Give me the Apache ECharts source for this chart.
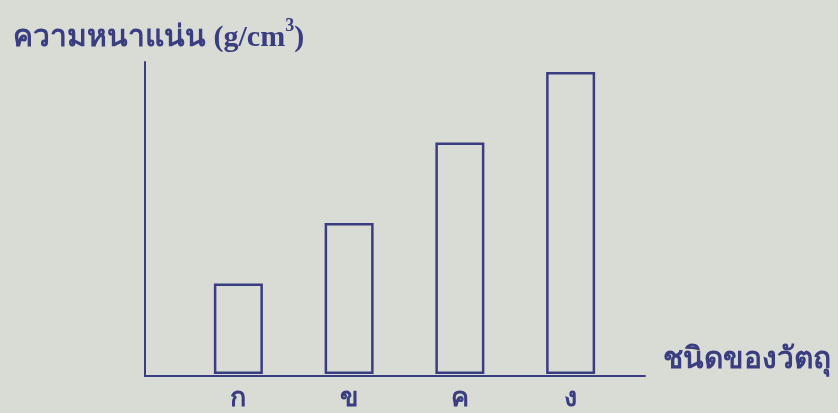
<!DOCTYPE html>
<html><head><meta charset="utf-8">
<script src="https://cdn.jsdelivr.net/npm/echarts@6/dist/echarts.min.js"></script>
<style>html,body{margin:0;padding:0;background:#d9dbd5;}#c{width:838px;height:413px;}</style>
</head><body><div id="c"></div>
<script>
const categories = ['ก', 'ข', 'ค', 'ง'];
const densityValues = [0.9, 1.5, 2.3, 3.0];
const yMax = 3.1;
const titleMain = 'ความหนาแน่น (g/cm';
const titleSup = '3';
const xName = 'ชนิดของวัตถุ';

const navy = '#3a3d80';
const font = '"Liberation Serif", "DejaVu Serif", serif';
const chart = echarts.init(document.getElementById('c'));
chart.setOption({
  backgroundColor: '#d9dbd5',
  animation: false,
  title: [{
    left: 8, top: 12,
    text: '{a|' + titleMain + '}{s|' + titleSup + '}{a|)}',
    textStyle: {
      rich: {
        a: { fontFamily: font, fontWeight: 'bold', fontSize: 30, color: navy },
        s: { fontFamily: font, fontWeight: 'bold', fontSize: 18, color: navy, verticalAlign: 'top', padding: [0, 0, 24, 0] }
      }
    }
  }, {
    left: 658, top: 340,
    text: xName,
    textStyle: { fontFamily: font, fontWeight: 'bold', fontSize: 30, color: navy }
  }],
  grid: [
    { left: 145, right: 193, top: 62, bottom: 37 },
    { left: 183, right: 212, top: 62, bottom: 37 }
  ],
  xAxis: [
    { gridIndex: 0, type: 'value', min: 0, max: 1, axisLine: { show: true, lineStyle: { color: navy, width: 2 } },
      axisTick: { show: false }, axisLabel: { show: false }, splitLine: { show: false } },
    { gridIndex: 1, type: 'category', data: categories, axisLine: { show: false }, axisTick: { show: false },
      axisLabel: { fontFamily: font, fontWeight: 'bold', fontSize: 27, color: navy, margin: 12 } }
  ],
  yAxis: [
    { gridIndex: 0, type: 'value', min: 0, max: 1, axisLine: { show: true, lineStyle: { color: navy, width: 2 } },
      axisTick: { show: false }, axisLabel: { show: false }, splitLine: { show: false } },
    { gridIndex: 1, type: 'value', min: 0, max: yMax, axisLine: { show: false }, axisTick: { show: false },
      axisLabel: { show: false }, splitLine: { show: false } }
  ],
  series: [{
    type: 'bar', xAxisIndex: 1, yAxisIndex: 1, data: densityValues, barWidth: 49,
    itemStyle: { color: 'rgba(0,0,0,0)', borderColor: navy, borderWidth: 2.5 }
  }]
});
</script></body></html>
